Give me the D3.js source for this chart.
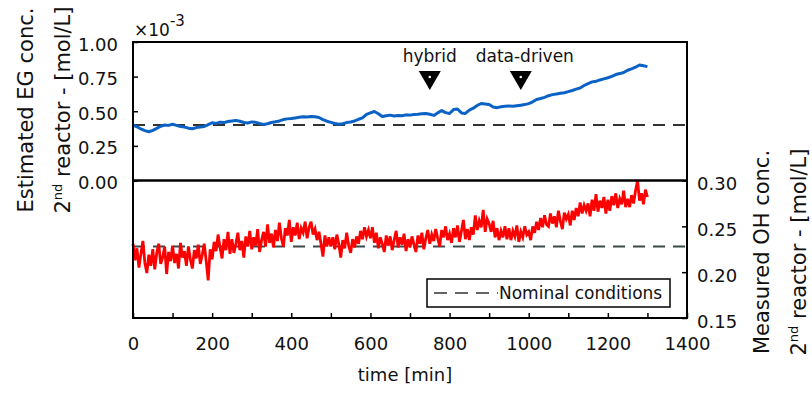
<!DOCTYPE html>
<html><head><meta charset="utf-8">
<script src="https://cdn.jsdelivr.net/npm/d3@7"></script>
<style>html,body{margin:0;padding:0;background:#fff;} svg{display:block;font-family:"DejaVu Sans",sans-serif;}</style>
</head><body><svg id="c" width="812" height="393"></svg>
<script>
// ---- data ----
const xDomain = [0, 1400];
const xTickValues = [0,100,200,300,400,500,600,700,800,900,1000,1100,1200,1300,1400];
const xLabelValues = [0,200,400,600,800,1000,1200,1400];
const egTicks = [0, 0.25, 0.5, 0.75, 1.0];      // x10^-3 mol/L
const ohTicks = [0.15, 0.20, 0.25, 0.30];       // mol/L
const egNominal = 0.40;
const ohNominal = 0.228;
const egStep = 10;   // minutes between EG samples
const egValues = [
0.400,0.388,0.372,0.360,0.352,0.362,0.376,0.392,0.401,0.398,
0.406,0.398,0.390,0.386,0.378,0.374,0.382,0.386,0.390,0.404,
0.417,0.412,0.421,0.418,0.426,0.430,0.434,0.428,0.419,0.415,
0.423,0.420,0.412,0.405,0.410,0.419,0.424,0.430,0.440,0.445,
0.448,0.452,0.456,0.460,0.458,0.462,0.460,0.455,0.440,0.428,
0.420,0.412,0.406,0.410,0.418,0.422,0.430,0.442,0.452,0.478,
0.488,0.498,0.482,0.462,0.468,0.472,0.466,0.470,0.468,0.474,
0.472,0.476,0.478,0.482,0.484,0.478,0.470,0.488,0.505,0.490,
0.484,0.512,0.516,0.488,0.484,0.508,0.522,0.542,0.556,0.552,
0.548,0.530,0.526,0.532,0.536,0.538,0.536,0.540,0.544,0.548,
0.555,0.568,0.585,0.592,0.600,0.612,0.620,0.624,0.630,0.634,
0.642,0.650,0.660,0.668,0.686,0.700,0.712,0.716,0.726,0.734,
0.742,0.752,0.765,0.772,0.780,0.796,0.806,0.818,0.834,0.828,
0.822];
const ohStep = 5;    // minutes between OH samples
const ohValues = [
0.231,0.213,0.226,0.205,0.220,0.234,0.210,0.199,0.219,0.207,
0.225,0.203,0.221,0.231,0.209,0.216,0.228,0.198,0.222,0.212,
0.229,0.210,0.220,0.204,0.232,0.216,0.223,0.207,0.228,0.214,
0.204,0.224,0.215,0.230,0.209,0.219,0.231,0.212,0.191,0.225,
0.214,0.233,0.223,0.241,0.227,0.215,0.236,0.224,0.244,0.220,
0.236,0.221,0.231,0.243,0.224,0.234,0.216,0.239,0.228,0.245,
0.225,0.238,0.229,0.247,0.222,0.235,0.244,0.228,0.252,0.232,
0.242,0.227,0.246,0.234,0.254,0.237,0.228,0.248,0.240,0.257,
0.233,0.249,0.240,0.254,0.236,0.248,0.243,0.255,0.237,0.249,
0.255,0.241,0.247,0.235,0.244,0.231,0.217,0.240,0.228,0.238,
0.228,0.238,0.225,0.241,0.231,0.216,0.235,0.226,0.243,0.229,
0.221,0.236,0.227,0.239,0.231,0.245,0.236,0.249,0.239,0.246,
0.237,0.249,0.232,0.243,0.226,0.238,0.231,0.222,0.240,0.229,
0.239,0.224,0.235,0.245,0.227,0.238,0.230,0.242,0.223,0.236,
0.227,0.239,0.230,0.222,0.240,0.231,0.243,0.225,0.237,0.246,
0.231,0.241,0.234,0.247,0.237,0.228,0.246,0.238,0.250,0.235,
0.242,0.232,0.248,0.238,0.251,0.233,0.245,0.257,0.236,0.247,
0.235,0.249,0.241,0.262,0.246,0.256,0.249,0.268,0.244,0.258,
0.253,0.244,0.256,0.238,0.248,0.235,0.245,0.238,0.250,0.236,
0.248,0.235,0.245,0.239,0.251,0.233,0.244,0.238,0.250,0.241,
0.244,0.235,0.250,0.243,0.255,0.246,0.259,0.249,0.262,0.252,
0.250,0.264,0.253,0.261,0.249,0.267,0.256,0.247,0.265,0.258,
0.263,0.251,0.267,0.257,0.270,0.261,0.276,0.264,0.273,0.267,
0.275,0.261,0.279,0.267,0.285,0.266,0.278,0.270,0.282,0.264,
0.279,0.267,0.283,0.273,0.286,0.270,0.280,0.274,0.289,0.271,
0.280,0.271,0.284,0.275,0.289,0.300,0.278,0.286,0.274,0.290,
0.282];
const markerTimes = [750, 980];
const markerLabels = ["hybrid", "data-driven"];
const legendLabel = "Nominal conditions";

// ---- layout ----
const L = 133, R = 687, T = 42, M = 180.5, B = 318;
const svg = d3.select("#c");
const x = d3.scaleLinear().domain(xDomain).range([L, R]);
const yEG = d3.scaleLinear().domain([0, 1]).range([M, T]);
const yOH = d3.scaleLinear().domain([0.15, 0.30]).range([B, M]);

const egData = egValues.map((v, i) => ({t: i * egStep, v}));
const ohData = ohValues.map((v, i) => ({t: i * ohStep, v}));

// nominal lines
svg.append("line").attr("x1", x(0)).attr("x2", x(1400)).attr("y1", yEG(egNominal)).attr("y2", yEG(egNominal))
  .attr("stroke", "#333").attr("stroke-width", 2).attr("stroke-dasharray", "12,8");
svg.append("line").attr("x1", x(0)).attr("x2", x(1400)).attr("y1", yOH(ohNominal)).attr("y2", yOH(ohNominal))
  .attr("stroke", "#3a4848").attr("stroke-width", 2).attr("stroke-dasharray", "12,8");

// series
svg.append("path").datum(egData)
  .attr("d", d3.line().x(d => x(d.t)).y(d => yEG(d.v)))
  .attr("fill", "none").attr("stroke", "#0a62c4").attr("stroke-width", 3).attr("stroke-linejoin", "round");
svg.append("path").datum(ohData)
  .attr("d", d3.line().x(d => x(d.t)).y(d => yOH(d.v)))
  .attr("fill", "none").attr("stroke", "#ff0000").attr("stroke-width", 2.8);

// frames
svg.append("rect").attr("x", L).attr("y", T).attr("width", R - L).attr("height", M - T)
  .attr("fill", "none").attr("stroke", "#000").attr("stroke-width", 2);
svg.append("rect").attr("x", L).attr("y", M).attr("width", R - L).attr("height", B - M)
  .attr("fill", "none").attr("stroke", "#000").attr("stroke-width", 2);

// axes
const axEG = svg.append("g").attr("transform", `translate(${L},0)`)
  .call(d3.axisLeft(yEG).tickValues(egTicks).tickFormat(d3.format(".2f")).tickSizeInner(-5).tickSizeOuter(0).tickPadding(15));
const axOH = svg.append("g").attr("transform", `translate(${R},0)`)
  .call(d3.axisRight(yOH).tickValues(ohTicks).tickFormat(d3.format(".2f")).tickSizeInner(-5).tickSizeOuter(0).tickPadding(10));
const axX = svg.append("g").attr("transform", `translate(0,${B})`)
  .call(d3.axisBottom(x).tickValues(xTickValues).tickFormat(d => xLabelValues.includes(d) ? d : "").tickSizeInner(-5).tickSizeOuter(0).tickPadding(19));
[axEG, axOH, axX].forEach(g => {
  g.select(".domain").remove();
  g.selectAll(".tick line").attr("stroke", "#000").attr("stroke-width", 1.5);
  g.selectAll(".tick text").attr("font-size", 18).attr("font-family", "DejaVu Sans").attr("fill", "#111");
});
axEG.selectAll(".tick text").attr("dy", "0.45em");
axOH.selectAll(".tick text").attr("dy", "0.5em");

// exponent label
const ex = svg.append("text").attr("x", 134).attr("y", 36).attr("font-size", 17).attr("fill", "#111");
ex.append("tspan").text("×10");
ex.append("tspan").attr("dy", -10).attr("font-size", 15).text("-3");

// markers
markerTimes.forEach((t, i) => {
  const cx = x(t);
  svg.append("path").attr("d", `M${cx - 11},71L${cx + 11},71L${cx},90Z`).attr("fill", "#000");
  svg.append("circle").attr("cx", cx).attr("cy", 77).attr("r", 1.3).attr("fill", "#fff");
  svg.append("text").attr("x", cx + (i === 1 ? 4 : 0)).attr("y", 62).attr("text-anchor", "middle")
    .attr("font-size", 17).attr("fill", "#111").text(markerLabels[i]);
});

// legend
const lg = svg.append("g");
lg.append("rect").attr("x", 427).attr("y", 279).attr("width", 243).attr("height", 28)
  .attr("fill", "#fff").attr("stroke", "#000").attr("stroke-width", 1.5);
lg.append("line").attr("x1", 434).attr("x2", 498).attr("y1", 293).attr("y2", 293)
  .attr("stroke", "#333").attr("stroke-width", 1.6).attr("stroke-dasharray", "13,8");
lg.append("text").attr("x", 499).attr("y", 299).attr("font-size", 17).attr("fill", "#111").text(legendLabel);

// axis titles
svg.append("text").attr("x", (L + R) / 2 - 5).attr("y", 381).attr("text-anchor", "middle")
  .attr("font-size", 18).attr("fill", "#111").text("time [min]");

function twoLine(xb1, xb2, cy, line1) {
  svg.append("text").attr("transform", `translate(${xb1},${cy}) rotate(-90)`).attr("text-anchor", "middle")
    .attr("font-size", 21).attr("fill", "#111").text(line1);
  const t2 = svg.append("text").attr("transform", `translate(${xb2},${cy}) rotate(-90)`).attr("text-anchor", "middle")
    .attr("font-size", 21).attr("fill", "#111");
  t2.append("tspan").text("2");
  t2.append("tspan").attr("dy", -8).attr("font-size", 13).text("nd");
  t2.append("tspan").attr("dy", 8).text(" reactor - [mol/L]");
}
twoLine(33, 70, 110, "Estimated EG conc.");
twoLine(769, 806, 252, "Measured OH conc.");
</script>
</body></html>
